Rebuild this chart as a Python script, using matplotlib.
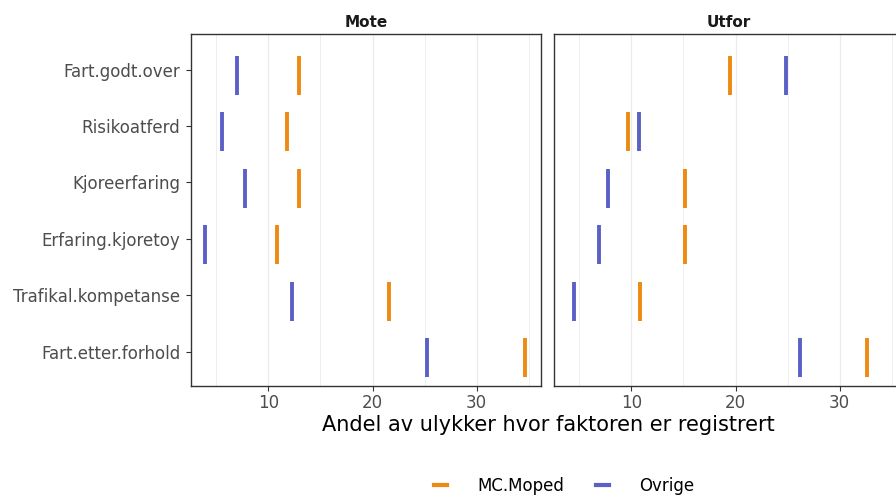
import matplotlib
matplotlib.use("Agg")
import matplotlib.pyplot as plt
from matplotlib.lines import Line2D

plt.rcParams['font.family'] = ['DejaVu Sans']

categories = ["Fart.godt.over", "Risikoatferd", "Kjoreerfaring",
              "Erfaring.kjoretoy", "Trafikal.kompetanse", "Fart.etter.forhold"]
panels = ["Mote", "Utfor"]
series = ["MC.Moped", "Ovrige"]
mote_mc = [12.9, 11.8, 12.9, 10.8, 21.6, 34.7]
mote_ovrige = [7.0, 5.5, 7.7, 3.9, 12.25, 25.2]
utfor_mc = [19.5, 9.65, 15.1, 15.1, 10.8, 32.6]
utfor_ovrige = [24.9, 10.7, 7.7, 6.9, 4.5, 26.2]
xticks = [10, 20, 30]

colors = {"MC.Moped": "#EE8A12", "Ovrige": "#5B60C6"}
data = {"Mote": {"MC.Moped": mote_mc, "Ovrige": mote_ovrige},
        "Utfor": {"MC.Moped": utfor_mc, "Ovrige": utfor_ovrige}}

W, H = 896, 498
fig = plt.figure(figsize=(W / 100, H / 100), dpi=100)

def px_axes(l, t, r, b):
    return fig.add_axes([l / W, 1 - b / H, (r - l) / W, (b - t) / H])

boxes = {"Mote": (191, 34, 541, 386), "Utfor": (554, 34, 904, 386)}
ypos = list(range(len(categories)))

for i, p in enumerate(panels):
    ax = px_axes(*boxes[p])
    ax.set_xlim(2.55, 36.2)
    ax.set_ylim(5.61, -0.63)
    for x in [5, 10, 15, 20, 25, 30, 35]:
        ax.axvline(x, color="#EBEBEB", lw=0.9 if x % 10 == 0 else 0.6, zorder=0)
    for s in series:
        ax.vlines(data[p][s], [y - 0.24 for y in ypos], [y + 0.45 for y in ypos],
                  color=colors[s], lw=2.8, zorder=3)
    ax.set_xticks(xticks)
    ax.set_xticklabels([str(t) for t in xticks], fontsize=12, color="#4D4D4D")
    ax.set_yticks(ypos)
    ax.tick_params(axis="both", color="#333333", width=0.8, length=3.5, pad=2)
    if i == 0:
        ax.set_yticklabels(categories, fontsize=12, color="#4D4D4D")
        ax.tick_params(axis="y", pad=4)
    else:
        ax.set_yticklabels([])
        ax.tick_params(axis="y", length=0)
    for sp in ax.spines.values():
        sp.set_color("#333333")
        sp.set_linewidth(1.0)
    ax.set_title(p, fontsize=11, fontweight="bold", color="#1A1A1A", pad=5)

fig.text(548 / W, 1 - 425 / H, "Andel av ulykker hvor faktoren er registrert",
         ha="center", va="center", fontsize=15, color="#000000")

handles = [Line2D([0], [0], color=colors[s], lw=3.0) for s in series]
fig.legend(handles, series, loc="center", bbox_to_anchor=(564 / W, 1 - 486 / H),
           ncol=2, frameon=False, fontsize=12, handlelength=0.78,
           columnspacing=1.9, handletextpad=1.8, borderpad=0.1)

fig.savefig("out.png", dpi=100)
